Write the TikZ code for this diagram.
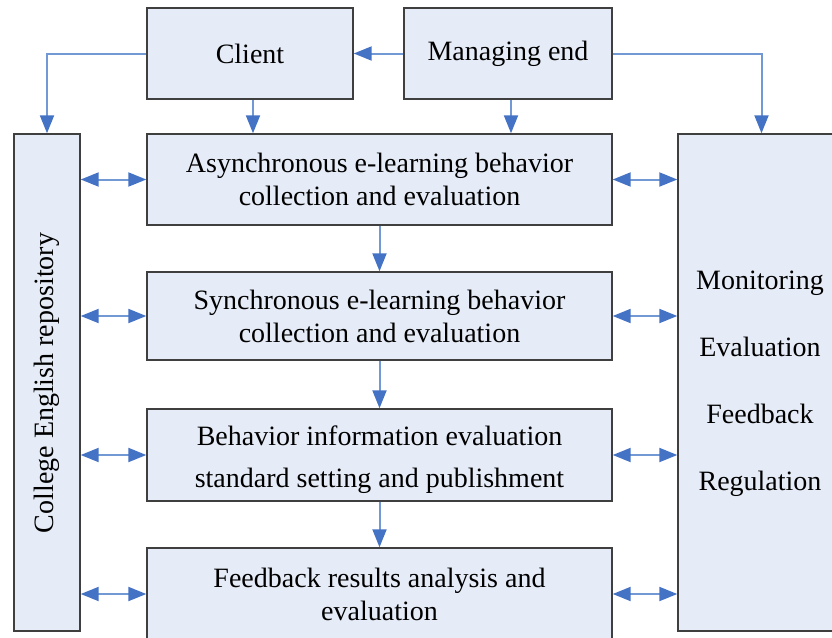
\documentclass[tikz,border=0pt]{standalone}
\usepackage{fontspec}
\setmainfont{Liberation Serif}
\usetikzlibrary{arrows.meta}
\definecolor{boxfill}{HTML}{E6ECF7}
\definecolor{boxline}{HTML}{3F3F3F}
\definecolor{lineblue}{HTML}{7299D4}
\definecolor{tipblue}{HTML}{4472C4}
\tikzset{
  blk/.style={draw=boxline, line width=1.4pt, fill=boxfill, inner sep=0pt, align=center,
    font=\fontsize{28}{33}\selectfont},
  conn/.style={draw=lineblue, line width=2pt,
    -{Triangle[length=18pt,width=14pt,color=tipblue]}},
  dconn/.style={draw=lineblue, line width=2pt,
    {Triangle[length=18pt,width=14pt,color=tipblue]}-{Triangle[length=18pt,width=14pt,color=tipblue]}}
}
\begin{document}
\begin{tikzpicture}[x=1pt,y=-1pt]
\clip (0,0) rectangle (832,637);
\useasboundingbox (0,0) rectangle (832,637);
\node[blk, minimum width=206pt, minimum height=91pt] (client) at (250,53.5) {Client};
\node[blk, minimum width=208pt, minimum height=91pt] (mgr) at (508,53.5) {Managing end};
\node[blk, minimum width=66pt, minimum height=497pt] (repo) at (47,382.5) {};
\node[rotate=90, font=\fontsize{28}{33}\selectfont] (repotext) at (47,383) {College English repository};
\node[blk, minimum width=167pt, minimum height=497pt] (right) at (761.5,382.5) {};
\node[font=\fontsize{28}{67}\selectfont, align=center] (righttext) at (760,384) {Monitoring\\Evaluation\\Feedback\\Regulation};
\node[blk, minimum width=465pt, minimum height=91pt] (b1) at (379.5,179.5) {Asynchronous e-learning behavior\\collection and evaluation};
\node[blk, minimum width=465pt, minimum height=88pt] (b2) at (379.5,316) {Synchronous e-learning behavior\\collection and evaluation};
\node[blk, minimum width=465pt, minimum height=92pt] (b3) at (379.5,455) {};
\node[align=center, font=\fontsize{28}{33}\selectfont] (b3text) at (379.5,460) {Behavior information evaluation\\[9pt]standard setting and publishment};
\node[blk, minimum width=465pt, minimum height=92pt] (b4) at (379.5,594) {Feedback results analysis and\\evaluation};
\draw[conn] (client.west) -| (repo.north);
\draw[conn] (mgr.west) -- (client.east);
\draw[conn] ([xshift=3pt]client.south) -- ([xshift=3pt]client.south |- b1.north);
\draw[conn] ([xshift=3pt]mgr.south) -- ([xshift=3pt]mgr.south |- b1.north);
\draw[conn] (mgr.east) -| (right.north);
\draw[conn] (b1.south) -- (b2.north);
\draw[conn] (b2.south) -- (b3.north);
\draw[conn] (b3.south) -- (b4.north);
\foreach \b in {b1,b2,b3,b4}{
  \draw[dconn] (repo.east |- \b) -- (\b.west);
  \draw[dconn] (\b.east) -- (right.west |- \b);
}
\end{tikzpicture}
\end{document}
